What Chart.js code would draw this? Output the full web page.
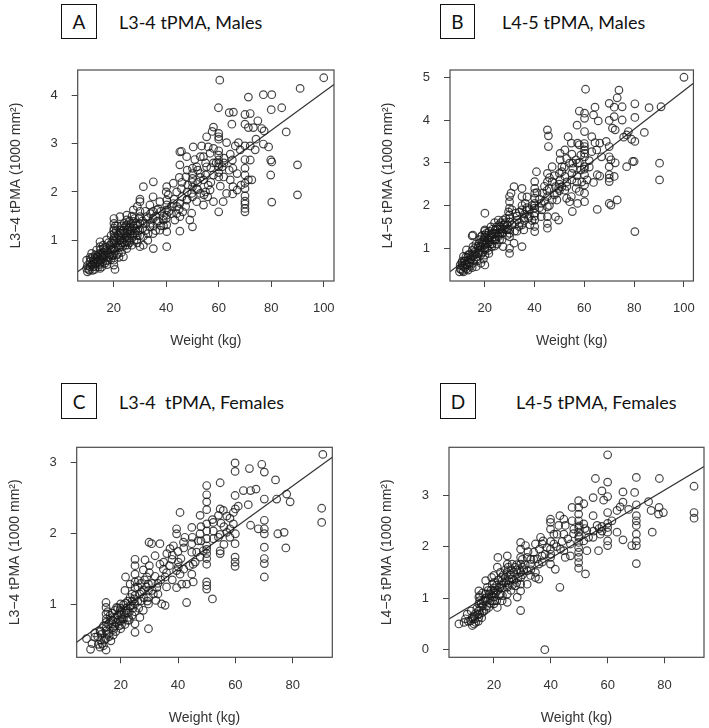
<!DOCTYPE html>
<html><head><meta charset="utf-8">
<script src="https://cdn.jsdelivr.net/npm/chart.js@4"></script>
<style>
html,body{margin:0;padding:0;background:#fff;}
body{width:709px;height:728px;position:relative;overflow:hidden;}
canvas.c{position:absolute;left:0;top:0;}
.lab{position:absolute;border:1px solid #111;box-sizing:border-box;font-family:'Lato',sans-serif;font-size:19px;color:#111;display:flex;align-items:center;justify-content:center;}
.ttl{position:absolute;font-family:'Lato',sans-serif;font-size:18px;color:#111;white-space:pre;line-height:1;}
</style></head><body>
<div class="lab" style="left:61px;top:4px;width:36px;height:35px;">A</div>
<div class="ttl" style="left:119px;top:13px;">L3-4 tPMA, Males</div>
<div class="lab" style="left:440px;top:4px;width:35px;height:35px;">B</div>
<div class="ttl" style="left:502px;top:13px;">L4-5 tPMA, Males</div>
<div class="lab" style="left:61px;top:383px;width:36px;height:36px;">C</div>
<div class="ttl" style="left:119px;top:393px;">L3-4  tPMA, Females</div>
<div class="lab" style="left:440px;top:383px;width:36px;height:36px;">D</div>
<div class="ttl" style="left:516px;top:393px;">L4-5 tPMA, Females</div>
<canvas class="c" id="cA" width="709" height="728"></canvas>
<canvas class="c" id="cB" width="709" height="728"></canvas>
<canvas class="c" id="cC" width="709" height="728"></canvas>
<canvas class="c" id="cD" width="709" height="728"></canvas>
<script>
// ---------- DATA ----------
const xTicksMale = [20, 40, 60, 80, 100];
const xTicksFemale = [20, 40, 60, 80];
const yTicksA = [1, 2, 3, 4];
const yTicksB = [1, 2, 3, 4, 5];
const yTicksC = [1, 2, 3];
const yTicksD = [0, 1, 2, 3];
const yTitleL34 = 'L3\u22124 tPMA (1000 mm\u00B2)';
const yTitleL45 = 'L4\u22125 tPMA (1000 mm\u00B2)';
const xTitle = 'Weight (kg)';

// [weight kg, tPMA (1000 mm2)]
const pointsA = [[100,4.36],[91,4.14],[60.4,4.31],[71.3,3.96],[77,4.01],[80.2,4.01],[84,3.74],[80,3.70],[59.9,3.74],[64,3.64],[65.6,3.65],[70,3.6],[72,3.62],[74.9,3.47],[65,3.40],[58,3.34],[57.5,3.25],[70,3.40],[71.3,3.33],[73.2,3.33],[76.4,3.31],[77.3,3.26],[85.7,3.24],[60,3.21],[60,3.14],[60,3.09],[55.4,3.14],[74.2,3.09],[63,3.02],[67.5,3.02],[70,2.95],[72,2.95],[77,2.99],[79,2.93],[50.3,2.93],[53.5,2.95],[45.2,2.83],[45.8,2.84],[47.8,2.73],[50.9,2.67],[60,2.76],[60,2.66],[60,2.59],[60,2.52],[64.4,2.78],[65.2,2.66],[70,2.67],[72,2.66],[79.8,2.66],[80.2,2.62],[90,2.56],[70,2.49],[65.4,2.49],[45.2,2.56],[50,2.49],[50,2.38],[50,2.28],[47.5,2.31],[53,2.38],[54.2,2.25],[58,2.35],[56,2.14],[60,2.31],[60.6,2.12],[64.4,2.25],[65.4,2.11],[65.3,1.96],[70,2.35],[70,2.18],[71.3,2.25],[72.6,2.25],[79.8,2.35],[70,2.07],[70,1.92],[70,1.81],[70,1.75],[70,1.66],[70,1.59],[80.2,1.79],[90,1.94],[60,1.59],[61.7,1.80],[54.2,1.73],[58,1.80],[55.8,1.90],[53,1.97],[51.6,1.80],[49.7,1.56],[50,1.28],[49,1.42],[45.2,1.19],[45.2,1.49],[46.3,1.59],[44,1.70],[45.2,1.76],[40.2,1.32],[40.2,1.18],[40.2,0.87],[35.1,0.83],[35.1,2.21],[31.3,2.11],[30,1.85],[30,1.80],[40.2,2.11],[42.7,2.18],[45.8,2.07],[40.8,1.94],[40.2,1.83],[40.2,1.73],[40.2,1.63],[40.2,1.52],[38.9,1.42],[36.4,1.63],[33.8,1.73],[35,1.90],[37.6,1.80],[42.7,1.76],[32.5,1.49],[30,1.49],[30,1.35],[30,1.21],[31.3,1.08],[33.8,1.28],[36.4,1.39],[28.1,1.14],[30,0.87],[31.3,0.90],[27.5,1.63],[25,1.52],[25,1.42],[25,1.32],[25,1.21],[25,1.08],[25,0.97],[25,0.83],[23.7,0.66],[22.4,1.49],[22.4,1.21],[20.1,1.45],[20.1,1.35],[20.1,1.25],[20.1,1.14],[20.1,1.04],[20.1,0.94],[20.1,0.83],[20.1,0.59],[20.1,0.49],[20.5,0.40],[18.6,0.90],[17.3,1.01],[16.1,0.83],[14.8,0.97],[14.8,0.73],[14.8,0.53],[14.8,0.42],[12.9,0.63],[12.3,0.46],[11,0.56],[9.7,0.59],[9.7,0.42],[10,0.35],[11.6,0.73],[13.5,0.80],[17.3,0.66],[17.9,0.59],[16.7,0.53],[14.8,0.87],[21.8,0.73],[23.4,0.87],[26.9,0.90],[28.8,1.01],[27.5,1.39],[29,1.32],[33.1,1.14],[35,1.14],[37.6,1.21],[26.2,1.14],[22.4,1.01],[21.8,1.11],[24,1.14],[26.2,1.28],[43.3,1.42],[47.4,1.70],[47.8,1.83],[49.7,1.97],[51.6,2.07],[54.4,1.94],[56.7,2.04],[48.2,2.14],[55.4,2.52],[54.2,2.73],[56.7,2.80],[58,2.90],[53,2.73],[51.6,2.52],[61.3,2.52],[56,2.93],[61.9,2.31],[67,2.38],[66.3,2.95],[68.2,2.87],[73.9,2.87],[63,1.97],[67,2.04],[68.5,2.14],[12,0.5],[13,0.7],[15.5,0.65],[16,0.9],[18,0.75],[19,0.85],[21,0.95],[22,0.85],[23,1.05],[24,0.95],[26,1.0],[27,1.2],[28,1.25],[29,1.1],[31,1.25],[32,1.35],[33,1.45],[34,1.55],[36,1.5],[38,1.6],[39,1.3],[42,1.55],[43,1.85],[44,2.0],[46,1.9],[48,2.0],[52,2.2],[55,2.35],[57,2.5],[59,2.6],[62,2.6],[50,2.1],[52,2.45],[48,2.45],[23,1.3],[21,1.2],[19,1.1],[16,0.75],[14,0.55],[12,0.65],[11,0.45],[27,1.5],[29,1.7],[35,1.3],[37,1.4],[10.5,0.4],[11,0.65],[11.5,0.5],[12,0.38],[12.5,0.55],[13,0.45],[13.5,0.6],[14,0.7],[14.5,0.5],[15,0.6],[15,0.8],[15.5,0.45],[16,0.62],[16.5,0.7],[17,0.85],[17.5,0.5],[18,0.95],[18.5,0.7],[19,0.6],[19.5,0.8],[20,1.2],[20,1.0],[20,0.7],[21,0.85],[21,1.05],[21.5,1.3],[22,1.1],[22,0.65],[22.5,0.9],[23,1.15],[23,0.75],[24,1.25],[24,1.35],[24.5,0.9],[25,1.15],[25.5,1.25],[26,1.4],[26,0.95],[27,1.05],[27.5,1.3],[28,1.45],[28.5,1.2],[29,0.95],[30,1.1],[30,1.6],[31,1.4],[32,1.2],[32,1.6],[33,1.0],[34,1.35],[35,1.6],[35,1.45],[36,1.2],[37,1.65],[38,1.3],[39,1.5],[40,1.45],[40,2.0],[41,1.6],[42,1.7],[44,1.55],[45,1.65],[45,2.3],[46,2.2],[48,1.85],[50,2.2],[50,1.9],[52,2.05],[53,2.3],[55,2.0],[55,2.6],[57,2.2],[58,2.6],[60,2.4],[60,2.85],[62,2.7],[64,2.45],[10,0.48],[10.8,0.38],[11.3,0.62],[12.2,0.58],[12.8,0.4],[13.2,0.52],[13.8,0.66],[14.2,0.45],[14.6,0.62],[15.2,0.7],[15.8,0.55],[16.2,0.68],[16.8,0.8],[17.2,0.58],[17.6,0.78],[18.2,0.65],[18.8,0.82],[19.2,0.95],[19.6,0.68],[20.3,0.78],[20.3,1.08],[20.6,1.3],[21.2,0.7],[21.6,0.9],[22.2,1.0],[22.6,1.15],[23.2,0.95],[23.6,1.2],[24.2,1.05],[24.6,1.3],[25.3,0.9],[25.6,1.05],[26.3,1.2],[26.6,1.35],[27.3,1.1],[27.8,1.0],[28.3,1.35],[29.3,1.2],[29.6,1.45]];

const pointsB = [[100,5.0],[90.8,4.31],[86,4.29],[84.1,3.71],[80.3,4.38],[80.3,4.06],[80.3,3.50],[80,3.03],[79.4,3.03],[80.3,1.39],[90.2,2.99],[90.2,2.60],[73.9,4.70],[73.2,4.52],[75.2,4.31],[72,4.30],[70,4.39],[72,4.08],[70,3.99],[71.3,3.81],[72.4,3.77],[75.2,4.00],[75.8,3.60],[77,3.65],[77.7,3.73],[79,3.55],[77,2.91],[70,3.38],[70,3.14],[70.7,3.07],[72.4,3.0],[70,2.72],[70,2.64],[70,2.56],[72,2.68],[70,2.05],[70.7,2.01],[73.2,2.13],[65.2,1.91],[60.5,4.72],[58,4.21],[60.1,4.16],[60.1,4.04],[64.3,4.30],[63.7,4.12],[65.6,3.98],[57.1,3.88],[60.1,3.73],[63,3.61],[64.3,3.47],[66.2,3.46],[65,3.30],[66.9,3.14],[57.3,3.46],[58,3.42],[54.8,3.46],[53.5,3.61],[60.1,3.38],[60.1,3.30],[60.1,3.22],[60.1,3.14],[60.1,2.91],[60.1,2.72],[60.1,2.48],[60.1,2.29],[60.1,2.09],[61.1,2.60],[58.6,2.83],[57.3,2.99],[55.4,2.99],[55.4,2.87],[54.1,2.99],[51,2.91],[50.3,3.07],[50.3,3.22],[52.2,3.30],[45.2,3.77],[45.6,3.63],[45.6,3.38],[51,2.79],[50.3,2.60],[49.7,2.40],[49,2.29],[49,2.13],[48.4,1.74],[49.7,1.66],[54.8,2.21],[54.1,2.09],[55.2,1.86],[56.7,2.40],[58,2.33],[57.3,2.05],[63.7,2.54],[65.2,2.72],[66.2,2.69],[40.8,2.79],[40.1,2.56],[40.1,2.40],[40.1,2.29],[40.1,2.17],[40.1,2.05],[40.1,1.94],[40.1,1.82],[40.1,1.66],[40.1,1.51],[40.1,1.39],[45.2,2.75],[45.2,2.56],[45.9,2.40],[45.2,2.21],[45.2,1.97],[45.2,1.74],[45.2,1.58],[45.2,1.47],[42.7,2.05],[47.1,2.13],[47.1,2.91],[35,2.40],[35,2.21],[35,1.90],[35,1.04],[31.8,2.44],[30,2.21],[30,2.09],[30,1.94],[30,1.78],[30,1.62],[30,1.43],[30,1.27],[30,0.88],[30,1.0],[31.8,1.12],[32.5,1.82],[33.1,1.66],[33.8,1.51],[35.7,1.70],[36.9,1.90],[36.3,2.05],[37.6,1.70],[38.2,1.55],[35.7,1.43],[27.4,1.66],[26.1,1.51],[24.8,1.35],[24.2,1.19],[22.9,1.04],[21.7,0.88],[20.1,1.82],[20.1,1.43],[20.1,1.31],[20.1,1.19],[20.1,1.08],[20.1,0.96],[20.1,0.84],[20.1,0.61],[18.5,1.27],[17.8,1.12],[17.2,0.88],[15.3,1.31],[15.3,1.04],[15.3,0.81],[15.3,0.65],[13.4,0.73],[11.5,0.81],[10.2,0.61],[9.9,0.45],[15,1.29],[12.7,0.96],[11.5,0.57],[13.4,0.49],[16.6,0.57],[18.5,0.65],[22.9,1.35],[24.2,1.43],[25.5,1.27],[26.8,1.35],[27.4,1.04],[25.5,1.66],[28.7,1.43],[21.7,1.19],[30.6,2.29],[42.7,1.74],[43.3,2.29],[47.1,2.56],[48.4,2.44],[51,2.44],[52.2,2.36],[52.9,2.17],[52.2,2.68],[52.9,3.1],[56.7,3.07],[58.6,3.18],[63,3.26],[70,2.91],[68.8,3.5],[12,0.7],[14,0.85],[16,1.0],[18,0.95],[19,1.1],[21,1.0],[22,1.15],[23,1.25],[24,1.05],[26,1.2],[27,1.45],[28,1.55],[29,1.3],[31,1.55],[32,1.4],[33,1.75],[34,1.6],[36,1.8],[37,1.95],[38,1.75],[39,2.0],[42,2.15],[43,1.9],[44,2.45],[46,2.0],[48,2.25],[50,2.5],[53,2.55],[55,2.6],[57,2.7],[59,2.55],[62,2.9],[11,0.6],[13,0.62],[17,0.75],[10.5,0.5],[11,0.7],[11.5,0.45],[12,0.55],[12.5,0.8],[13,0.6],[13.5,0.85],[14,0.65],[14.5,0.75],[15,0.95],[15,0.55],[16,0.85],[16.5,1.1],[17,0.7],[17.5,1.0],[18,1.2],[18.5,0.85],[19,1.3],[19.5,0.75],[20,1.25],[20,1.0],[20,1.4],[21,1.1],[21,1.3],[21.5,0.95],[22,1.25],[22.5,1.5],[23,1.1],[23.5,1.35],[24,1.6],[24.5,1.2],[25,1.45],[25,1.1],[26,1.35],[26.5,1.6],[27,1.2],[28,1.45],[28.5,1.7],[29,1.55],[30,1.7],[30,1.35],[31,1.9],[32,1.6],[33,1.4],[34,1.85],[35,1.55],[35,2.0],[36,1.65],[37,2.2],[38,1.9],[39,1.65],[40,1.75],[40,2.0],[41,2.3],[42,1.95],[44,2.1],[45,2.35],[46,2.65],[48,2.7],[50,2.35],[50,2.75],[52,2.9],[53,2.45],[55,2.75],[55,3.2],[57,2.55],[58,3.0],[60,2.85],[60,3.45],[62,3.05],[10.2,0.52],[10.8,0.66],[11.2,0.48],[11.8,0.7],[12.3,0.62],[12.8,0.52],[13.2,0.78],[13.8,0.68],[14.3,0.58],[14.8,0.82],[15.6,0.72],[16.2,0.92],[16.8,0.8],[17.4,1.05],[17.8,0.9],[18.3,1.05],[18.8,1.15],[19.3,0.9],[19.7,1.2],[20.4,1.12],[20.6,1.35],[21.3,1.2],[21.8,1.4],[22.3,1.1],[22.7,1.3],[23.3,1.45],[23.7,1.2],[24.3,1.35],[24.7,1.5],[25.3,1.3],[25.8,1.55],[26.3,1.45],[27.2,1.35],[27.7,1.55],[28.3,1.6],[29.3,1.45],[29.6,1.85]];

const pointsC = [[90.5,3.12],[90.1,2.36],[90.1,2.16],[59.9,3.0],[59.9,2.88],[64.9,2.92],[69.2,2.98],[70.1,2.87],[74,2.76],[54.7,2.72],[62.8,2.61],[65.3,2.61],[67.2,2.63],[59.9,2.54],[64.5,2.41],[50,2.68],[50,2.55],[50,2.45],[50,2.34],[40.7,2.30],[61,2.39],[70.1,2.49],[74.4,2.49],[77.9,2.56],[79.1,2.45],[54.7,2.35],[55.8,2.33],[54.1,2.26],[58.1,2.22],[59.3,2.30],[52.3,2.16],[47.7,2.26],[50,2.14],[50,2.04],[50,1.93],[50,1.83],[50,1.72],[50,1.57],[50,1.32],[50,1.27],[50,1.22],[52,1.08],[43,1.03],[59.9,1.86],[59.9,1.67],[59.9,1.60],[59.9,1.54],[65.3,2.12],[68,2.07],[70.1,2.19],[70.1,2.07],[70.1,2.0],[70.1,1.81],[70.1,1.65],[70.1,1.58],[70.1,1.39],[74.8,2.0],[77,2.02],[77.6,1.80],[57,2.02],[58.1,1.95],[54.7,1.72],[54.7,1.99],[52.3,1.93],[47.7,1.67],[48.8,1.76],[46.5,1.74],[44.8,2.09],[39.5,2.07],[39.5,2.0],[42.4,1.95],[41.9,1.88],[38.4,1.83],[37.2,1.79],[40.1,1.60],[40.1,1.53],[39.5,1.48],[40.7,1.43],[44.8,1.86],[44.8,1.74],[45.3,1.57],[44.8,1.43],[45.3,1.32],[43,1.29],[41.3,1.29],[39.5,1.24],[34.9,1.50],[35.5,1.39],[33.7,1.57],[30.8,1.86],[29.9,1.88],[33.7,1.86],[32,1.69],[28.5,1.63],[27.9,1.49],[25,1.64],[25,1.55],[25,1.43],[25,1.32],[25,1.24],[25,1.13],[25,1.01],[25,0.73],[25,0.61],[21.7,1.39],[23.3,1.29],[29.1,1.39],[29.7,1.29],[29.7,1.20],[29.7,1.10],[29.7,1.01],[29.7,0.66],[32.3,1.06],[31.4,1.15],[32.6,1.24],[34.3,1.01],[35.5,0.99],[27.9,0.92],[26.7,0.82],[21.9,0.92],[20,1.01],[20,0.89],[20,0.77],[20,0.66],[18,0.82],[16.9,0.73],[14.9,1.03],[14.9,0.96],[14.9,0.87],[14.9,0.75],[14.9,0.63],[14.9,0.52],[14.9,0.36],[12.8,0.63],[12.2,0.44],[12.8,0.40],[11,0.54],[8.1,0.52],[9.5,0.37],[17.4,0.57],[18.6,0.96],[22.7,0.82],[23.3,1.10],[21.5,1.20],[26.7,1.15],[26.2,1.34],[17.4,0.68],[14,0.42],[16.6,0.49],[36.1,1.72],[37.9,1.64],[54.7,1.76],[54.1,1.95],[58.1,2.07],[59.3,2.14],[47.7,2.0],[52.3,2.04],[19,0.85],[21,0.8],[22,0.95],[23,0.9],[24,1.05],[18,0.7],[16,0.6],[13,0.5],[27,1.05],[28,1.2],[31,1.3],[33,1.3],[36,1.45],[38,1.35],[42,1.5],[46,1.6],[48,1.9],[56,2.1],[10,0.45],[11,0.6],[12,0.55],[13,0.62],[13.5,0.45],[14,0.7],[15,0.8],[15,0.68],[15.5,0.9],[16,0.55],[16.5,0.78],[17,0.88],[17.5,0.65],[18,0.92],[18.5,0.75],[19,0.95],[19.5,0.7],[20,0.85],[20,0.95],[20.5,0.8],[21,1.0],[21.5,0.72],[22,0.88],[22.5,1.05],[23,0.78],[23.5,0.98],[24,0.85],[24,1.15],[25,0.9],[26,1.05],[26,1.25],[27,1.3],[28,1.1],[29,1.25],[30,1.45],[30,1.55],[31,1.2],[32,1.4],[33,1.15],[34,1.35],[35,1.6],[36,1.25],[37,1.55],[38,1.7],[40,1.75],[41,1.65],[42,1.8],[44,1.55],[45,1.95],[47,1.9],[48,2.1],[50,1.65],[50,1.78],[52,2.2],[55,2.15],[56,1.85],[57,2.25],[60,2.0],[60,2.35],[13.2,0.58],[14.4,0.5],[15.3,0.58],[15.8,0.72],[16.3,0.85],[17.2,0.78],[18.3,0.62],[19.2,0.78],[19.8,0.92],[20.3,0.72],[21.2,0.88],[21.8,1.02],[22.3,0.78],[23.2,0.98],[24.3,0.95],[24.8,1.08],[26.3,0.95],[27.3,1.18],[28.3,1.35],[29.3,1.05]];

const pointsD = [[60,3.78],[90.4,3.17],[90.4,2.66],[90.4,2.55],[55.7,3.32],[60,3.25],[60,2.97],[58,3.08],[58.6,2.90],[70.1,3.34],[78.2,3.32],[65.4,3.06],[69.5,3.05],[54.9,2.95],[74.4,2.87],[78.1,2.76],[75.3,2.70],[77.9,2.63],[79.6,2.66],[70.1,2.81],[70.1,2.60],[70.1,2.50],[70.1,2.41],[70.1,2.24],[70.1,2.11],[70.1,2.02],[70.1,1.67],[68.5,2.02],[64.4,2.77],[63.3,2.70],[67.4,2.72],[65.4,2.86],[75.7,2.28],[65.4,2.13],[60,2.66],[60,2.37],[60,2.28],[60,2.11],[60,2.02],[61.5,2.50],[56.8,1.92],[58,2.39],[56.3,2.41],[54.9,2.60],[54.9,2.18],[49.8,2.89],[51.6,2.83],[49.8,2.76],[49.8,2.63],[49.8,2.50],[49.8,2.37],[49.8,2.28],[49.8,2.18],[49.8,2.08],[49.8,1.98],[49.8,1.89],[49.8,1.79],[49.8,1.69],[49.8,1.58],[52.2,1.47],[51.6,2.44],[51.6,2.11],[52.7,2.31],[47.5,2.76],[44.6,2.53],[45.1,2.41],[44.6,2.24],[44.6,1.92],[45.1,1.79],[42.2,2.24],[42.8,2.41],[39.9,2.53],[39.9,2.47],[39.9,2.34],[41.1,2.24],[41.1,2.05],[39.9,1.95],[39.9,1.79],[39.9,1.66],[41.6,1.56],[43.2,1.21],[37.9,0.0],[36.4,2.18],[37.3,2.11],[34.6,2.05],[35.2,1.76],[35.8,1.66],[34.6,1.50],[34.6,1.40],[35.8,1.37],[29.4,2.08],[31.1,2.02],[29.4,1.95],[29.4,1.79],[29.4,1.66],[29.4,1.50],[29.4,1.40],[29.4,1.27],[29.4,1.14],[29.4,0.76],[28.2,1.02],[31.7,1.79],[31.7,1.53],[32.9,1.44],[31.7,1.27],[24.7,1.82],[21.4,1.79],[24.7,1.66],[24.7,1.50],[25.3,1.34],[24.7,1.21],[24.7,1.08],[24.7,0.92],[21.2,1.60],[22.3,1.50],[22.9,1.34],[20,1.44],[19.4,1.27],[20,1.14],[20,1.02],[20,0.89],[21.2,0.82],[17.7,1.21],[17.1,1.08],[17.1,0.95],[18.2,0.82],[14.7,1.14],[14.7,1.02],[14.7,0.89],[14.7,0.76],[14.7,0.63],[13.6,0.53],[11.8,0.56],[12.4,0.47],[10.6,0.69],[9.5,0.53],[7.7,0.50],[12.4,0.63],[15.9,0.72],[19.2,1.40],[27,1.50],[26.4,1.37],[26.4,1.66],[27.6,1.24],[22.3,1.08],[22.9,0.95],[17.1,1.34],[32.9,1.66],[34,1.89],[36.9,1.82],[38.7,1.98],[43.4,1.95],[46.9,2.05],[46.9,1.82],[52.7,1.92],[53.3,2.18],[57.4,2.24],[63.3,2.28],[48.1,2.34],[47.5,2.50],[43.2,2.60],[16,0.85],[18,1.0],[19,1.15],[21,1.25],[23,1.2],[26,1.45],[28,1.55],[30,1.6],[33,1.75],[37,1.7],[13,0.65],[15,0.95],[10,0.6],[11,0.55],[12,0.75],[12.5,0.6],[13,0.5],[13.5,0.7],[14,0.8],[14.5,0.55],[15,1.05],[15,0.7],[15.5,0.9],[16,1.1],[16.5,0.75],[17,1.0],[17.5,0.85],[18,1.15],[18.5,0.9],[19,1.05],[19.5,0.95],[20,1.2],[20,1.3],[20.5,1.1],[21,0.95],[21.5,1.35],[22,1.2],[22.5,1.4],[23,1.05],[23.5,1.3],[24,1.55],[24,1.4],[25,1.6],[25,1.25],[26,1.15],[26,1.55],[27,1.35],[28,1.65],[28,1.3],[29,1.55],[30,1.75],[30,1.45],[31,1.65],[32,1.9],[33,1.55],[34,1.75],[36,1.95],[37,2.05],[38,1.85],[40,2.1],[40,1.85],[42,2.0],[44,2.1],[46,2.15],[48,2.25],[50,2.4],[50,2.2],[52,2.35],[55,2.3],[57,2.35],[58,2.3],[60,2.45],[13.3,0.6],[14.3,0.68],[15.3,0.82],[15.7,0.62],[16.3,0.95],[17.3,0.78],[18.3,1.08],[18.8,0.95],[19.8,1.1],[20.3,0.95],[21.3,1.15],[21.8,1.05],[22.8,1.25],[23.3,1.45],[24.3,1.3],[25.5,1.45],[26.5,1.25],[27.5,1.6],[28.5,1.4],[30.5,1.55]];

// fitted regression lines (end points read at the plot edges)
const lineA = [[6.3,0.35],[103.9,4.22]];
const lineB = [[6.1,0.45],[103.8,4.86]];
const lineC = [[4.67,0.47],[93.8,3.08]];
const lineD = [[4.2,0.595],[93.9,3.55]];

// axis ranges
const xRangeA = [6.3,103.9], yRangeA = [0.16,4.52];
const xRangeB = [6.1,103.8], yRangeB = [0.235,5.17];
const xRangeC = [4.67,93.8], yRangeC = [0.257,3.22];
const xRangeD = [4.2,93.9], yRangeD = [-0.147,3.925];

// ---------- DRAWING ----------
const boxPlugin = {
  id:'rbox',
  afterDatasetsDraw(chart){
    const {ctx, chartArea:a} = chart;
    ctx.save();
    ctx.strokeStyle = '#4a4a4a';
    ctx.lineWidth = 1.2;
    ctx.strokeRect(a.left, a.top, a.right - a.left, a.bottom - a.top);
    ctx.restore();
  }
};
const AX_FONT = "'Liberation Sans', Arial, sans-serif";
function makeChart(id, pts, line, xr, yr, xt, yt, yTitle, box){
  const W = 70, H = 69;
  return new Chart(document.getElementById(id), {
    type:'scatter',
    data:{datasets:[
      {data: pts.map(p => ({x:p[0], y:p[1]})), pointRadius:3.8, pointHoverRadius:3.8, pointBorderWidth:1.2,
       borderColor:'rgba(25,25,25,0.8)', backgroundColor:'rgba(0,0,0,0)', pointBackgroundColor:'rgba(0,0,0,0)'},
      {data: line.map(p => ({x:p[0], y:p[1]})), showLine:true, pointRadius:0, borderColor:'#333', borderWidth:1.2, clip:0, fill:false}
    ]},
    options:{
      responsive:false, animation:false, events:[],
      layout:{padding:{left: box.l - W, top: box.t, right: 709 - box.r, bottom: 728 - box.b - H}},
      plugins:{legend:{display:false}, tooltip:{enabled:false}},
      scales:{
        x:{type:'linear', min:xr[0], max:xr[1],
           afterBuildTicks: s => { s.ticks = xt.map(v => ({value:v})); },
           afterFit: s => { s.height = H; },
           grid:{drawOnChartArea:false, drawTicks:true, tickLength:6, tickColor:'#444', lineWidth:1},
           border:{display:false},
           ticks:{font:{family:AX_FONT, size:13}, color:'#333', padding:14, maxRotation:0, autoSkip:false},
           title:{display:true, text:xTitle, font:{family:AX_FONT, size:14}, color:'#333', padding:0}},
        y:{type:'linear', min:yr[0], max:yr[1],
           afterBuildTicks: s => { s.ticks = yt.map(v => ({value:v})); },
           afterFit: s => { s.width = W; },
           grid:{drawOnChartArea:false, drawTicks:true, tickLength:6, tickColor:'#444', lineWidth:1},
           border:{display:false},
           ticks:{font:{family:AX_FONT, size:13}, color:'#333', padding:14, autoSkip:false},
           title:{display:true, text:yTitle, font:{family:AX_FONT, size:14}, color:'#333', padding:0}}
      }
    },
    plugins:[boxPlugin]
  });
}
makeChart('cA', pointsA, lineA, xRangeA, yRangeA, xTicksMale, yTicksA, yTitleL34, {l:77.7, t:70, r:334, b:281});
makeChart('cB', pointsB, lineB, xRangeB, yRangeB, xTicksMale, yTicksB, yTitleL45, {l:450, t:70, r:705.7, b:281});
makeChart('cC', pointsC, lineC, xRangeC, yRangeC, xTicksFemale, yTicksC, yTitleL34, {l:76.7, t:447.3, r:332.3, b:657.3});
makeChart('cD', pointsD, lineD, xRangeD, yRangeD, xTicksFemale, yTicksD, yTitleL45, {l:449, t:447.3, r:704.7, b:657.3});
</script>
</body></html>
